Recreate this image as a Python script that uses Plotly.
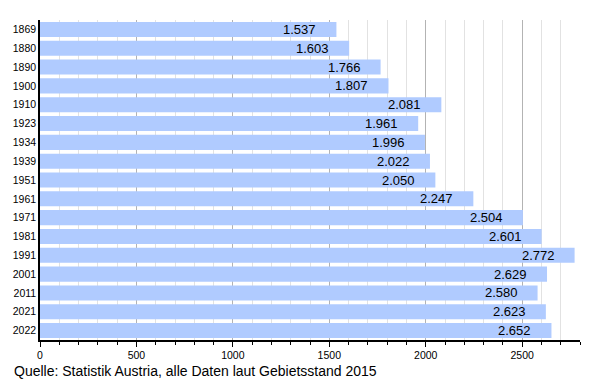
import plotly.graph_objects as go

years = ["1869", "1880", "1890", "1900", "1910", "1923", "1934", "1939", "1951",
         "1961", "1971", "1981", "1991", "2001", "2011", "2021", "2022"]
population = [1537, 1603, 1766, 1807, 2081, 1961, 1996, 2022, 2050,
              2247, 2504, 2601, 2772, 2629, 2580, 2623, 2652]
source_text = "Quelle: Statistik Austria, alle Daten laut Gebietsstand 2015"

FONT = "Liberation Sans, Arial, sans-serif"
BAR_COLOR = "#b0cbff"

fig = go.Figure()
fig.add_trace(go.Bar(
    x=population, y=years, orientation="h",
    marker=dict(color=BAR_COLOR, line=dict(width=0)),
    width=0.8, hoverinfo="x+y",
))

annotations = []
for i, v in enumerate(population):
    annotations.append(dict(
        x=v, y=i, xref="x", yref="y",
        text=f"{v:,}".replace(",", "."),
        showarrow=False, xanchor="right", yanchor="middle",
        xshift=-18, font=dict(family=FONT, size=13, color="black"),
    ))
annotations.append(dict(
    x=0, y=0, xref="paper", yref="paper", xanchor="left", yanchor="top",
    xshift=-28, yshift=-21, text=source_text, showarrow=False,
    font=dict(family=FONT, size=14, color="black"),
))

fig.update_layout(
    width=600, height=380,
    margin=dict(l=40, r=20, t=20, b=40),
    paper_bgcolor="white", plot_bgcolor="white",
    showlegend=False, bargap=0.2,
    font=dict(family=FONT, color="black"),
    annotations=annotations,
    xaxis=dict(
        range=[0, 2800], tickmode="linear", tick0=0, dtick=500,
        automargin=False,
        showgrid=True, gridcolor="#b3b3b3", gridwidth=1,
        showline=True, linecolor="black", linewidth=1.5,
        ticks="outside", ticklen=5, tickcolor="black", tickwidth=1,
        tickfont=dict(family=FONT, size=10.5, color="black"),
        zeroline=False,
        minor=dict(dtick=100, tick0=0, showgrid=True, gridcolor="#e2e2e2",
                   ticks="outside", ticklen=3, tickcolor="black"),
    ),
    yaxis=dict(
        type="category", categoryorder="array", categoryarray=years,
        range=[len(years) - 0.5, -0.5], automargin=False,
        showline=True, linecolor="black", linewidth=1.5,
        ticks="", ticklabelstandoff=0,
        tickfont=dict(family=FONT, size=10.5, color="black"),
        showgrid=False, zeroline=False,
    ),
)

fig.write_html("out.html", config={"displayModeBar": False},
               post_script="document.body.style.margin='0';document.body.style.overflow='hidden';")
